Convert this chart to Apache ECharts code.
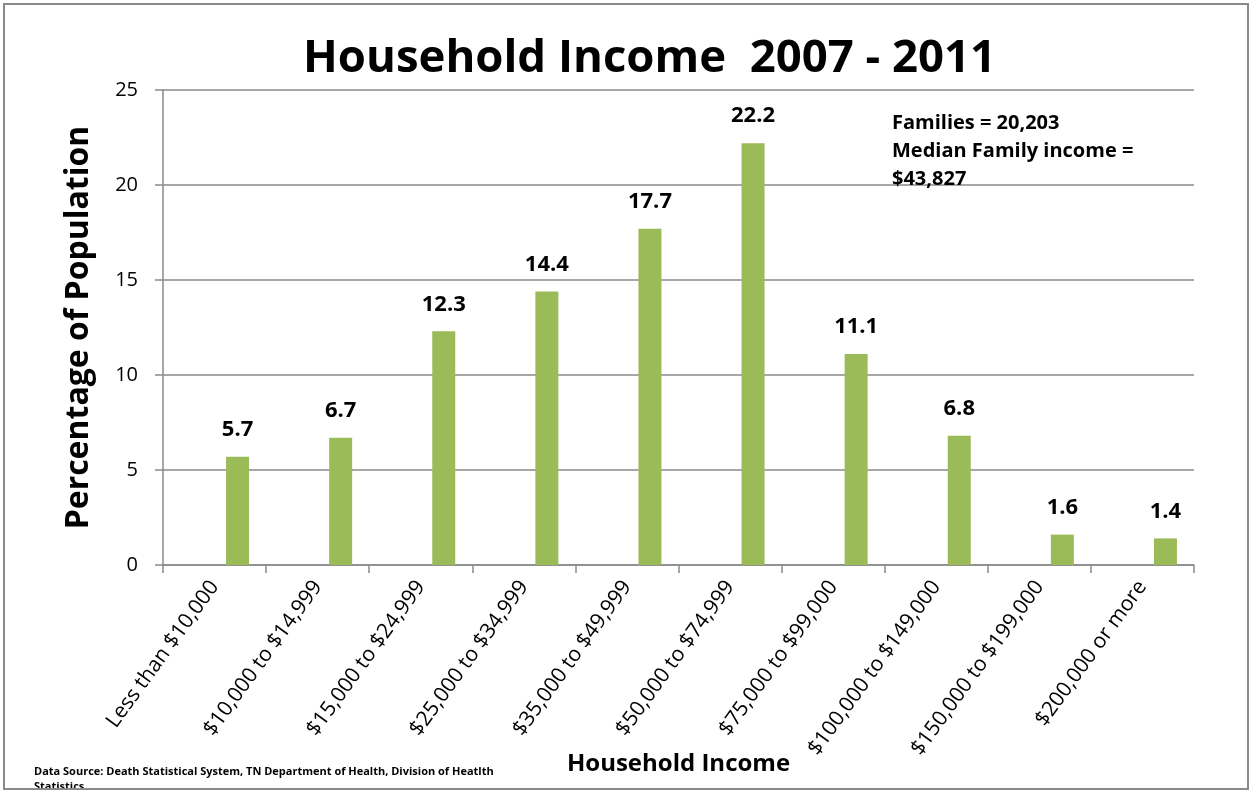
<!DOCTYPE html>
<html>
<head>
<meta charset="utf-8">
<script src="https://cdn.jsdelivr.net/npm/echarts@6/dist/echarts.min.js"></script>
<style>
  html, body { margin: 0; padding: 0; background: #fff; }
  #chart { width: 1249px; height: 791px; }
</style>
</head>
<body>
<div id="chart"></div>
<script>
// Income brackets and share of families in each (percent)
const categories = [
  'Less than $10,000', '$10,000 to $14,999', '$15,000 to $24,999',
  '$25,000 to $34,999', '$35,000 to $49,999', '$50,000 to $74,999',
  '$75,000 to $99,000', '$100,000 to $149,000', '$150,000 to $199,000',
  '$200,000 or more'
];
const percentages = [5.7, 6.7, 12.3, 14.4, 17.7, 22.2, 11.1, 6.8, 1.6, 1.4];
const yTicks = { min: 0, max: 25, interval: 5 };

const titleText = 'Household Income  2007 - 2011';
const noteLines = ['Families = 20,203', 'Median Family income =', '$43,827'];
const sourceLines = [
  'Data Source: Death Statistical System, TN Department of Health, Division of Heatlth',
  'Statistics'
];

const FONT = '"Open Sans", Lato, sans-serif';
const GRAY = '#8a8a8a';
const GREEN = '#9BBB59';

const chart = echarts.init(document.getElementById('chart'), null, { renderer: 'canvas' });

// two empty bar slots precede the data series in each category group
const emptySlot = { type: 'bar', data: [], barWidth: 23, barGap: '0%', silent: true };

chart.setOption({
  animation: false,
  backgroundColor: '#fff',
  title: {
    text: titleText,
    left: 298,
    top: 31,
    textStyle: { fontFamily: FONT, fontSize: 45.5, fontWeight: 'bold', color: '#000' }
  },
  grid: {
    left: 163, right: 55, top: 90, bottom: 226,
    containLabel: false, outerBoundsMode: 'none'
  },
  xAxis: {
    type: 'category',
    data: categories,
    boundaryGap: true,
    name: 'Household Income',
    nameLocation: 'middle',
    nameGap: 187,
    nameMoveOverlap: false,
    nameTextStyle: { fontFamily: FONT, fontSize: 24, fontWeight: 'bold', color: '#000' },
    axisLine: { show: true, lineStyle: { color: GRAY, width: 1.5 } },
    axisTick: { show: true, length: 8, alignWithLabel: false, interval: 0, lineStyle: { color: GRAY, width: 1.5 } },
    axisLabel: {
      interval: 0, rotate: 54, margin: 18,
      fontFamily: FONT, fontSize: 21, color: '#000'
    },
    splitLine: { show: false }
  },
  yAxis: {
    type: 'value',
    min: yTicks.min, max: yTicks.max, interval: yTicks.interval,
    name: 'Percentage of Population',
    nameLocation: 'middle',
    nameGap: 68,
    nameRotate: 90,
    nameMoveOverlap: false,
    nameTextStyle: { fontFamily: FONT, fontSize: 32, fontWeight: 'bold', color: '#000' },
    axisLine: { show: true, lineStyle: { color: GRAY, width: 1.5 } },
    axisTick: { show: true, length: 8, inside: false, lineStyle: { color: GRAY, width: 1.5 } },
    axisLabel: { margin: 25, fontFamily: FONT, fontSize: 20, color: '#000' },
    splitLine: { show: true, lineStyle: { color: GRAY, width: 1.5 } }
  },
  series: [
    emptySlot,
    Object.assign({}, emptySlot),
    {
      type: 'bar',
      data: percentages,
      barWidth: 23,
      barGap: '0%',
      itemStyle: { color: GREEN },
      label: {
        show: true, position: 'top', distance: 16,
        fontFamily: FONT, fontSize: 22, fontWeight: 'bold', color: '#000',
        formatter: p => p.value.toFixed(1)
      }
    }
  ],
  graphic: [
    {
      type: 'text', left: 892, top: 109, z: 10,
      style: {
        text: noteLines.join('\n'),
        fontFamily: FONT, fontSize: 20, fontWeight: 'bold', lineHeight: 28, fill: '#000'
      }
    },
    {
      type: 'text', left: 34, top: 764, z: 10,
      style: {
        text: sourceLines.join('\n'),
        fontFamily: FONT, fontSize: 11, fontWeight: 'bold', lineHeight: 15, fill: '#000'
      }
    },
    {
      type: 'rect', z: 20, silent: true,
      shape: { x: 0, y: 789, width: 1249, height: 3 },
      style: { fill: '#fff' }
    },
    {
      type: 'rect', z: 21, silent: true,
      shape: { x: 4, y: 4, width: 1244, height: 785 },
      style: { fill: 'none', stroke: GRAY, lineWidth: 2 }
    }
  ]
});
</script>
</body>
</html>
